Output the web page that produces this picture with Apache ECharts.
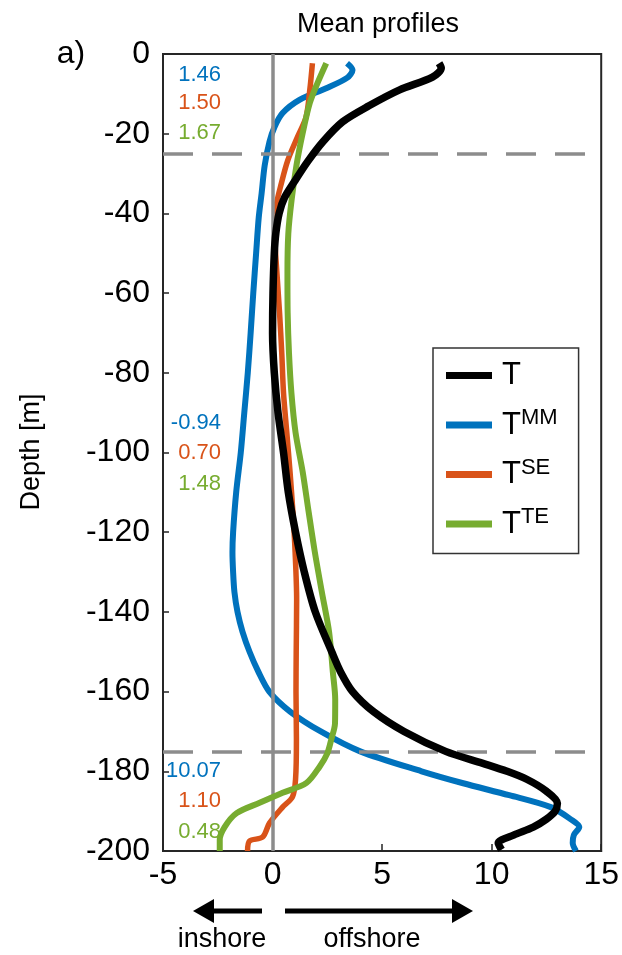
<!DOCTYPE html>
<html>
<head>
<meta charset="utf-8">
<script src="https://cdn.jsdelivr.net/npm/echarts@6/dist/echarts.min.js"></script>
<style>
  html, body { margin: 0; padding: 0; background: #fff; }
  #chart { width: 622px; height: 955px; }
</style>
</head>
<body>
<div id="chart"></div>
<script>
// Mean cross-shore profiles against depth (m)

// Total T
const depthT = [-2.3, -3.5, -5.8, -9, -13, -17, -22, -27, -32, -36, -40, -45, -50, -60, -70, -80, -90, -100, -110, -120, -130, -140, -150, -155, -160, -165, -170, -175, -178, -180, -182, -185, -188, -190, -192, -194, -196, -198, -199.7];
const valT   = [7.6, 7.7, 7.3, 5.8, 4.4, 3.2, 2.3, 1.6, 1.0, 0.55, 0.3, 0.15, 0.08, 0.02, 0.0, 0.08, 0.25, 0.5, 0.72, 1.05, 1.45, 1.95, 2.7, 3.1, 3.65, 4.6, 6.0, 7.9, 9.6, 10.7, 11.6, 12.5, 13.0, 12.9, 12.5, 11.9, 11.0, 10.3, 10.45];

// Mean-motion part T^MM
const depthMM = [-2.3, -4, -6, -8.6, -11.5, -14.8, -18.3, -22, -28, -35, -41, -50, -60, -70, -80, -90, -100, -110, -120, -125, -130, -135, -140, -145, -150, -155, -160, -165, -170, -175, -180, -183, -186, -189, -192, -194, -196, -198, -200];
const valMM   = [3.4, 3.65, 3.4, 2.45, 1.23, 0.46, 0.09, -0.14, -0.36, -0.5, -0.63, -0.75, -0.88, -1.0, -1.13, -1.29, -1.45, -1.66, -1.8, -1.83, -1.8, -1.74, -1.6, -1.37, -1.05, -0.65, -0.15, 0.8, 2.2, 4.0, 6.8, 8.7, 10.8, 12.7, 13.6, 14.0, 13.75, 13.7, 13.85];

// Standing-eddy part T^SE
const depthSE = [-2.3, -9, -15.8, -20.8, -26.6, -32.5, -38, -45, -55, -65, -75, -85, -95, -105, -115, -125, -137, -150, -160, -172, -182, -186.4, -189, -193, -196.5, -197.5, -200];
const valSE   = [1.82, 1.7, 1.53, 1.14, 0.7, 0.4, 0.17, 0.1, 0.2, 0.32, 0.42, 0.5, 0.65, 0.8, 0.93, 1.03, 1.1, 1.08, 1.07, 1.09, 1.05, 0.91, 0.46, -0.14, -0.45, -1.05, -1.14];

// Transient-eddy part T^TE
const depthTE = [-2.3, -7.3, -12.3, -20, -28, -36.6, -45, -55, -65, -75, -85, -95, -105, -115, -125, -135, -145, -155, -162, -168, -172, -175.5, -178.9, -182.9, -185.4, -187.9, -190.5, -194, -197.2, -200];
const valTE   = [2.45, 2.05, 1.7, 1.37, 1.09, 0.87, 0.72, 0.68, 0.69, 0.75, 0.86, 1.05, 1.38, 1.65, 1.93, 2.25, 2.58, 2.75, 2.86, 2.85, 2.68, 2.5, 2.14, 1.55, 0.46, -0.59, -1.64, -2.19, -2.41, -2.41];

// Layer means (upper, middle, lower) for T^MM, T^SE, T^TE
const upperMeans  = ['1.46', '1.50', '1.67'];
const middleMeans = ['-0.94', '0.70', '1.48'];
const lowerMeans  = ['10.07', '1.10', '0.48'];

// Layer boundaries
const layerDepths = [-25, -175];

const seriesNames  = ['T', 'TMM', 'TSE', 'TTE'];
const seriesColors = ['#000000', '#0072BD', '#D95319', '#77AC30'];

const FONT = 'Liberation Sans, Arial, Helvetica, sans-serif';

function pairs(xs, ys) {
  return xs.map((x, i) => [x, ys[i]]);
}

const chart = echarts.init(document.getElementById('chart'), null, { renderer: 'canvas' });

const profiles = [
  { name: 'TMM', data: pairs(valMM, depthMM), color: seriesColors[1], width: 6, z: 3 },
  { name: 'TSE', data: pairs(valSE, depthSE), color: seriesColors[2], width: 5.5, z: 4 },
  { name: 'TTE', data: pairs(valTE, depthTE), color: seriesColors[3], width: 6, z: 5 },
  { name: 'T',   data: pairs(valT, depthT),   color: seriesColors[0], width: 7.5, z: 6 }
];

const series = [
  {
    // reference lines: zero offset and layer boundaries
    type: 'line',
    data: [],
    z: 1,
    silent: true,
    markLine: {
      symbol: 'none',
      silent: true,
      animation: false,
      label: { show: false },
      data: [
        { xAxis: 0, lineStyle: { color: '#8c8c8c', width: 3.5, type: 'solid' } },
        ...layerDepths.map(d => ({ yAxis: d, lineStyle: { color: '#8c8c8c', width: 3.5, type: [30, 19] } }))
      ]
    }
  },
  ...profiles.map(p => ({
    name: p.name,
    type: 'line',
    data: p.data,
    z: p.z,
    smooth: 0.3,
    showSymbol: false,
    symbol: 'none',
    clip: false,
    animation: false,
    lineStyle: { color: p.color, width: p.width, cap: 'butt', join: 'round' },
    itemStyle: { color: p.color }
  }))
];

const labelColors = [seriesColors[1], seriesColors[2], seriesColors[3]];
const meanGroups = [
  { values: upperMeans,  ys: [75, 103, 133] },
  { values: middleMeans, ys: [423, 453, 484] },
  { values: lowerMeans,  ys: [771, 801, 832] }
];

const graphics = [];
meanGroups.forEach(g => {
  g.values.forEach((v, i) => {
    graphics.push({
      type: 'text', x: 221, y: g.ys[i], z: 2,
      style: { text: v, fill: labelColors[i], fontSize: 22, fontFamily: FONT,
               align: 'right', verticalAlign: 'middle', textAlign: 'right', textVerticalAlign: 'middle' }
    });
  });
});

// title, panel letter, axis name
graphics.push(
  { type: 'text', x: 378, y: 25, style: { text: 'Mean profiles', fill: '#000', fontSize: 27, fontFamily: FONT,
      align: 'center', verticalAlign: 'middle', textAlign: 'center', textVerticalAlign: 'middle' } },
  { type: 'text', x: 71, y: 54, style: { text: 'a)', fill: '#000', fontSize: 32, fontFamily: FONT,
      align: 'center', verticalAlign: 'middle', textAlign: 'center', textVerticalAlign: 'middle' } },
  { type: 'text', x: 32, y: 452, rotation: Math.PI / 2, style: { text: 'Depth [m]', fill: '#000', fontSize: 27, fontFamily: FONT,
      align: 'center', verticalAlign: 'middle', textAlign: 'center', textVerticalAlign: 'middle' } }
);

// direction arrows under the x axis
graphics.push(
  { type: 'line', shape: { x1: 262, y1: 911, x2: 210, y2: 911 }, style: { stroke: '#000', lineWidth: 5 } },
  { type: 'polygon', shape: { points: [[193, 911], [214, 899], [214, 923]] }, style: { fill: '#000' } },
  { type: 'line', shape: { x1: 285, y1: 911, x2: 456, y2: 911 }, style: { stroke: '#000', lineWidth: 5 } },
  { type: 'polygon', shape: { points: [[473, 911], [452, 899], [452, 923]] }, style: { fill: '#000' } },
  { type: 'text', x: 222, y: 940, style: { text: 'inshore', fill: '#000', fontSize: 27, fontFamily: FONT,
      align: 'center', verticalAlign: 'middle', textAlign: 'center', textVerticalAlign: 'middle' } },
  { type: 'text', x: 372, y: 940, style: { text: 'offshore', fill: '#000', fontSize: 27, fontFamily: FONT,
      align: 'center', verticalAlign: 'middle', textAlign: 'center', textVerticalAlign: 'middle' } }
);

const option = {
  backgroundColor: '#fff',
  animation: false,
  grid: {
    left: 163, top: 54, width: 439, height: 797,
    show: true, borderColor: '#262626', borderWidth: 2, backgroundColor: 'transparent'
  },
  xAxis: {
    type: 'value', min: -5, max: 15, interval: 5,
    axisLine: { show: true, onZero: false, lineStyle: { color: '#262626', width: 2 } },
    axisTick: { show: true, inside: true, length: 7, lineStyle: { color: '#262626', width: 1.5 } },
    axisLabel: { color: '#000', fontSize: 32, fontFamily: FONT, margin: 8 },
    splitLine: { show: false }
  },
  yAxis: {
    type: 'value', min: -200, max: 0, interval: 20,
    axisLine: { show: true, onZero: false, lineStyle: { color: '#262626', width: 2 } },
    axisTick: { show: true, inside: true, length: 6, lineStyle: { color: '#262626', width: 1.5 } },
    axisLabel: { color: '#000', fontSize: 32, fontFamily: FONT, margin: 13 },
    splitLine: { show: false }
  },
  legend: {
    data: seriesNames,
    orient: 'vertical',
    left: 433, top: 348,
    padding: [12, 21, 14, 13],
    itemGap: 16,
    itemWidth: 46, itemHeight: 7,
    icon: 'rect',
    borderColor: '#333', borderWidth: 1.5,
    backgroundColor: '#fff',
    selectedMode: false,
    formatter: name => name === 'T' ? '{t|T}' : '{t|T}{s|' + name.slice(1) + '}',
    textStyle: {
      rich: {
        t: { fontSize: 31, fontFamily: FONT, color: '#000', lineHeight: 36, padding: [0, 0, 0, 5] },
        s: { fontSize: 22, fontFamily: FONT, color: '#000', lineHeight: 14, verticalAlign: 'top' }
      }
    }
  },
  series: series,
  graphic: graphics
};

chart.setOption(option);
</script>
</body>
</html>
